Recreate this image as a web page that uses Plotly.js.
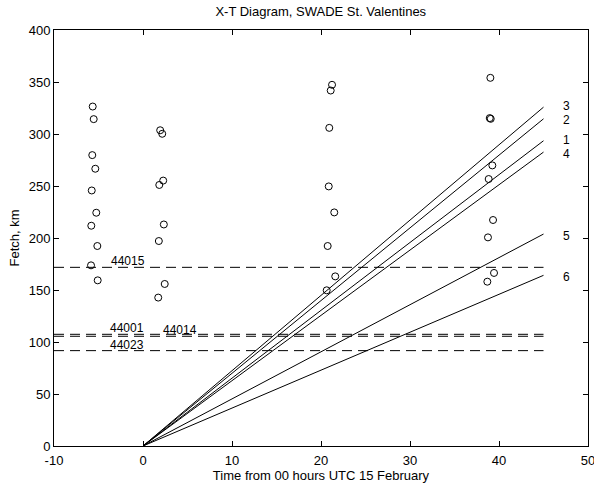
<!DOCTYPE html>
<html>
<head>
<meta charset="utf-8">
<script src="https://cdn.plot.ly/plotly-3.0.1.min.js"></script>
<style>html,body{margin:0;padding:0;background:#fff;}#chart{width:594px;height:489px;}</style>
</head>
<body>
<div id="chart"></div>
<script>
// Observation points (time in hours, fetch in km)
const obsTime = [
  -5.65, -5.54, -5.70, -5.36, -5.76, -5.25, -5.81, -5.13, -5.84, -5.09,
  1.93, 2.16, 1.83, 2.27, 2.34, 1.78, 2.44, 1.71,
  21.24, 21.09, 20.93, 20.87, 21.49, 20.75, 21.6, 20.64,
  39.03, 38.96, 39.07, 39.25, 38.84, 39.33, 38.76, 39.44, 38.69
];
const obsFetch = [
  326.4, 314.3, 279.7, 266.6, 245.7, 224.3, 211.8, 192.3, 173.7, 159.3,
  303.6, 300.2, 251.0, 255.2, 213.0, 197.1, 155.8, 142.7,
  347.3, 341.8, 305.9, 249.6, 224.6, 192.3, 163.1, 149.7,
  354.0, 315.3, 314.6, 269.8, 256.7, 217.3, 200.6, 166.4, 158.0
];

// Trajectory lines starting at (0,0), ending at time lineEndTime
const lineLabels = ["3", "2", "1", "4", "5", "6"];
const lineStartTime = 0;
const lineStartFetch = 0;
const lineEndTime = 45;
const lineEndFetch = [325.8, 314.6, 293.5, 282.6, 203.8, 164.1];
const lineLabelFetch = [326.5, 313.0, 294.5, 281.0, 201.5, 162.5];

// Buoy fetch levels
const buoyNames = ["44015", "44001", "44014", "44023"];
const buoyFetch = [171.8, 107.4, 105.5, 91.7];
const buoyLabelTime = [-1.7, -1.8, 4.2, -1.8];
const buoyLineStart = -10;
const buoyLineEnd = 45;

// Axis ticks
const xTicks = [-10, 0, 10, 20, 30, 40, 50];
const yTicks = [0, 50, 100, 150, 200, 250, 300, 350, 400];

const FONT = "Liberation Sans, Arial, Helvetica, sans-serif";

const traces = [];
buoyFetch.forEach((f) => {
  traces.push({
    x: [buoyLineStart, buoyLineEnd], y: [f, f], mode: "lines",
    line: {color: "#000", width: 1, dash: "10px,6px"},
    hoverinfo: "skip", showlegend: false
  });
});
lineEndFetch.forEach((f) => {
  traces.push({
    x: [lineStartTime, lineEndTime], y: [lineStartFetch, f], mode: "lines",
    line: {color: "#000", width: 1},
    showlegend: false
  });
});
traces.push({
  x: obsTime, y: obsFetch, mode: "markers",
  marker: {symbol: "circle-open", size: 7, color: "#000", line: {width: 1, color: "#000"}},
  showlegend: false
});

const annotations = [];
lineLabels.forEach((lab, i) => {
  annotations.push({
    x: 47.6, y: lineLabelFetch[i], xref: "x", yref: "y", text: lab,
    showarrow: false, xanchor: "center", yanchor: "middle",
    font: {family: FONT, size: 12, color: "#000"}
  });
});
buoyNames.forEach((name, i) => {
  annotations.push({
    x: buoyLabelTime[i], y: buoyFetch[i], xref: "x", yref: "y", text: name,
    showarrow: false, xanchor: "center", yanchor: "bottom", yshift: -3,
    font: {family: FONT, size: 12, color: "#000"}
  });
});

const axisCommon = {
  showline: true, linecolor: "#000", linewidth: 1, mirror: "ticks",
  ticks: "inside", ticklen: 5, tickcolor: "#000", tickwidth: 1,
  showgrid: false, zeroline: false,
  tickfont: {family: FONT, size: 13, color: "#000"}
};

const layout = {
  width: 594, height: 489,
  margin: {l: 54, r: 6, t: 30, b: 43},
  paper_bgcolor: "#fff", plot_bgcolor: "#fff",
  title: {text: "X-T Diagram, SWADE St. Valentines", x: 0.54, xanchor: "center", y: 0.985, yanchor: "top",
          font: {family: FONT, size: 13, color: "#000"}},
  xaxis: Object.assign({}, axisCommon, {
    range: [-10, 50], tickmode: "array", tickvals: xTicks, ticktext: xTicks.map(String),
    ticklabeloverflow: "allow", ticklabelstandoff: 2,
    title: {text: "Time from 00 hours UTC 15 February", standoff: 3, font: {family: FONT, size: 13, color: "#000"}}
  }),
  yaxis: Object.assign({}, axisCommon, {
    range: [0, 400], tickmode: "array", tickvals: yTicks, ticktext: yTicks.map(String),
    title: {text: "Fetch, km", standoff: 6, font: {family: FONT, size: 13, color: "#000"}}
  }),
  annotations: annotations,
  showlegend: false
};

Plotly.newPlot("chart", traces, layout, {displayModeBar: false, staticPlot: true});
</script>
</body>
</html>
